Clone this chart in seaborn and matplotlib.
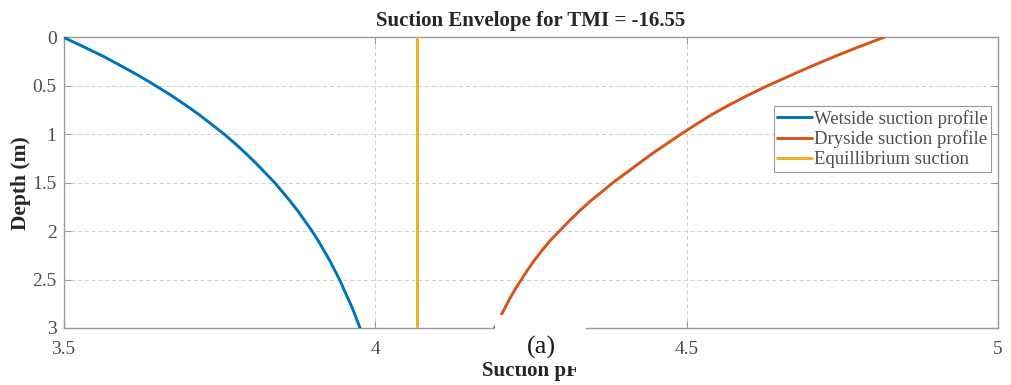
import matplotlib
matplotlib.use("Agg")
import matplotlib.pyplot as plt
from matplotlib.patches import Rectangle
import seaborn as sns
import pandas as pd

# ---- data ----
depth = [0.0, 0.1, 0.2, 0.3, 0.4, 0.5, 0.6, 0.7, 0.8, 0.9, 1.0,
         1.1, 1.2, 1.3, 1.4, 1.5, 1.6, 1.7, 1.8, 1.9, 2.0,
         2.1, 2.2, 2.3, 2.4, 2.5, 2.6, 2.7, 2.8, 2.9, 3.0]
wet_suction = [3.500, 3.533, 3.565, 3.594, 3.622, 3.648, 3.673, 3.696, 3.718, 3.738, 3.758,
               3.776, 3.793, 3.809, 3.824, 3.839, 3.852, 3.865, 3.877, 3.888, 3.899,
               3.909, 3.918, 3.927, 3.935, 3.943, 3.950, 3.957, 3.964, 3.970, 3.976]
dry_suction = [4.817, 4.776, 4.737, 4.700, 4.665, 4.630, 4.598, 4.568, 4.540, 4.515, 4.491,
               4.468, 4.445, 4.424, 4.403, 4.382, 4.363, 4.344, 4.327, 4.311, 4.296,
               4.281, 4.268, 4.256, 4.245, 4.235, 4.225, 4.216, 4.208, 4.200, 4.192]
eq_depth = [0.0, 3.0]
eq_suction = [4.068, 4.068]

series_names = ["Wetside suction profile", "Dryside suction profile", "Equillibrium suction"]
series_colors = ["#0072BD", "#D95319", "#EDB120"]
x_ticks = [3.5, 4, 4.5, 5]
x_tick_labels = ["3.5", "4", "4.5", "5"]
y_ticks = [0, 0.5, 1, 1.5, 2, 2.5, 3]
y_tick_labels = ["0", "0.5", "1", "1.5", "2", "2.5", "3"]
title = "Suction Envelope for TMI = -16.55"

df = pd.concat([
    pd.DataFrame({"suction": wet_suction, "depth": depth, "series": series_names[0]}),
    pd.DataFrame({"suction": dry_suction, "depth": depth, "series": series_names[1]}),
    pd.DataFrame({"suction": eq_suction, "depth": eq_depth, "series": series_names[2]}),
], ignore_index=True)

sns.set_theme(style="white")
plt.rcParams["font.family"] = ["Liberation Serif", "DejaVu Serif"]

W, H = 1011, 385
fig = plt.figure(figsize=(W / 100, H / 100), dpi=100)
L, R, T, B = 63.5, 998, 37.3, 328
ax = fig.add_axes([L / W, 1 - B / H, (R - L) / W, (B - T) / H])

sns.lineplot(data=df, x="suction", y="depth", hue="series", hue_order=series_names,
             palette=series_colors, sort=False, estimator=None, linewidth=2.1,
             ax=ax, zorder=3)

ax.set_xlim(3.5, 5)
ax.set_ylim(3, 0)
ax.set_xticks(x_ticks)
ax.set_xticklabels(x_tick_labels)
ax.set_yticks(y_ticks)
ax.set_yticklabels(y_tick_labels)

label_gray = "#4d4d4d"
spine_gray = "#9a9a9a"
for s in ax.spines.values():
    s.set_visible(True)
    s.set_color(spine_gray)
    s.set_linewidth(1.0)

ax.tick_params(axis="both", which="major", direction="in", length=5, width=0.8,
               color=spine_gray, labelcolor=label_gray, labelsize=14,
               top=True, right=True, bottom=True, left=True)
ax.tick_params(axis="x", pad=9)
ax.tick_params(axis="y", pad=5)

ax.grid(True, color="#cfcfcf", linestyle=(0, (4, 3)), linewidth=0.7)
ax.set_axisbelow(True)

ax.set_title(title, fontsize=15, fontweight="bold", color="#262626", pad=8)
ax.set_ylabel("Depth (m)", fontsize=15.5, fontweight="bold", color="#262626")
ax.yaxis.set_label_coords(-0.035, 0.5)
ax.set_xlabel("Suction pF", fontsize=15, fontweight="bold", color="#262626")
ax.xaxis.set_label_coords(0.5, -0.112)

leg = ax.legend(loc="upper right", bbox_to_anchor=(0.993, 0.764), borderaxespad=0,
                fontsize=13.5, frameon=True, fancybox=False, framealpha=1,
                handlelength=1.85, handletextpad=0.1, borderpad=0.2,
                labelspacing=0.15, title=None)
leg.get_frame().set_edgecolor("#999999")
leg.get_frame().set_linewidth(0.8)
for t in leg.get_texts():
    t.set_color(label_gray)

# white caption box with "(a)"
fig.add_artist(Rectangle((495 / W, 1 - 366 / H), 91 / W, 51 / H, transform=fig.transFigure,
                         facecolor="white", edgecolor="none", zorder=10))
fig.text(541 / W, 1 - 347 / H, "(a)", ha="center", va="center", fontsize=19,
         color="#1a1a1a", zorder=11)

fig.savefig("out.png", dpi=100)
